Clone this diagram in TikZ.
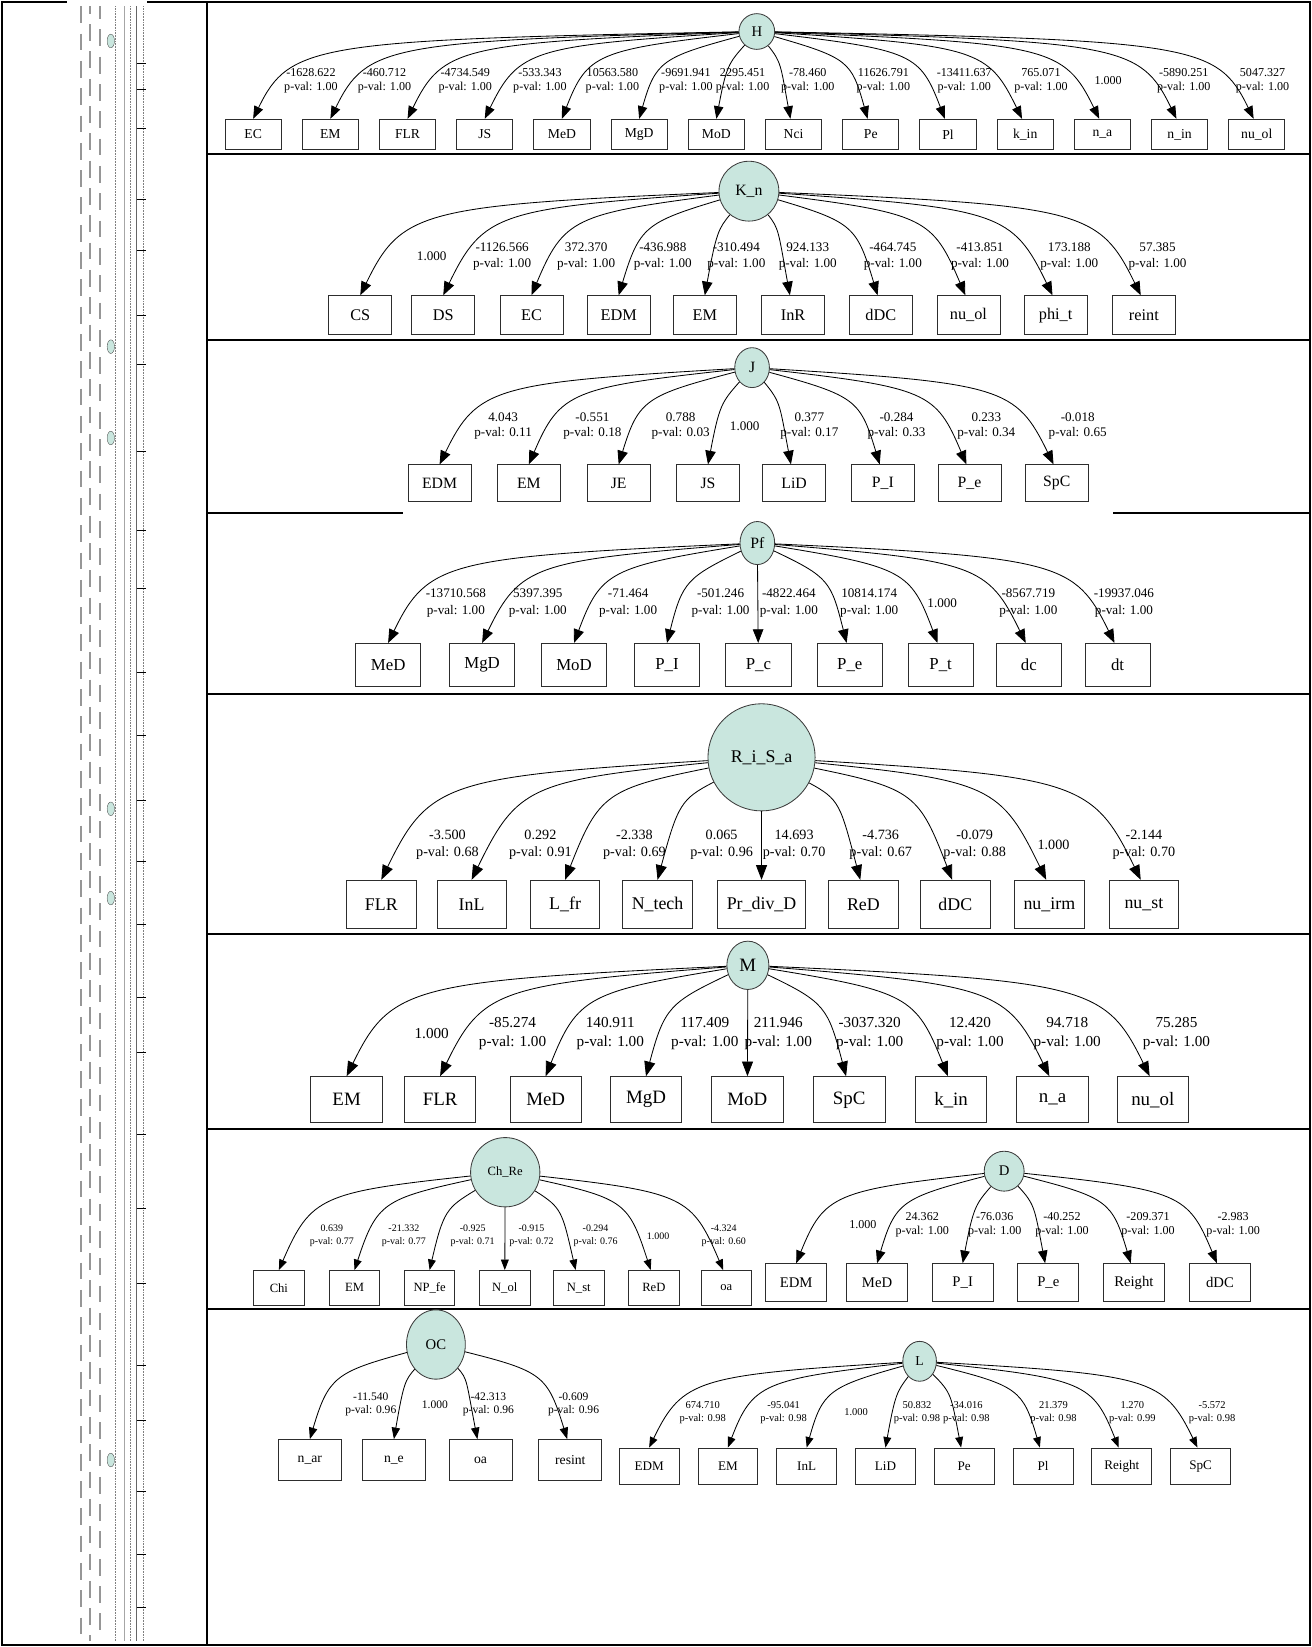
\documentclass[tikz,border=0pt]{standalone}
\usepackage{fontspec}
\setmainfont{Liberation Serif}
\usetikzlibrary{arrows.meta,shapes.geometric}
\definecolor{latfill}{RGB}{201,230,222}
\definecolor{latdraw}{RGB}{60,60,60}
\definecolor{obsdraw}{RGB}{45,45,45}
\definecolor{stripgrey}{RGB}{150,150,150}

% one loading edge: source, target, dx, dy (centre to box top), source radius, tip style
\newcommand{\loadedge}[6]{%
  \pgfmathsetmacro{\ldw}{max(abs(#3)-1.5,0.5)}%
  \pgfmathsetmacro{\ldphi}{atan((#4)/\ldw)}%
  \ifdim\ldphi pt>80pt
    \draw[#6] (#1) -- (#2);%
  \else
    \pgfmathsetmacro{\lddev}{\ldphi*\ldphi/90}%
    \pgfmathsetmacro{\ldww}{\ldw-(#5)*cos(\lddev)}%
    \pgfmathsetmacro{\ldhh}{(#4)-(#5)*sin(\lddev)}%
    \pgfmathsetmacro{\ldpsi}{atan2(\ldhh,\ldww)}%
    \pgfmathsetmacro{\ldal}{max(64+18*(1-min(1,\ldw/250)),min(\ldpsi+6,88))}%
    \pgfmathsetmacro{\lds}{sin(\ldal-\lddev)}%
    \pgfmathsetmacro{\lda}{(\ldww*sin(\ldal)-\ldhh*cos(\ldal))/\lds}%
    \pgfmathsetmacro{\ldb}{(\ldhh*cos(\lddev)-\ldww*sin(\lddev))/\lds}%
    \pgfmathsetmacro{\ldod}{max(0.95*\lda,3)}%
    \pgfmathsetmacro{\ldid}{max(0.95*\ldb,3)}%
    \pgfmathsetmacro{\ldout}{(#3)<0 ? 180+\lddev : -\lddev}%
    \pgfmathsetmacro{\ldin}{(#3)<0 ? \ldal : 180-\ldal}%
    \pgfmathsetmacro{\ldtx}{(#3)<0 ? 0 : -3}%
    \draw[#6] (#1) to[out=\ldout, in=\ldin, out distance=\ldod pt, in distance=\ldid pt] ([xshift=\ldtx pt]#2.north);%
  \fi
}

\begin{document}
\begin{tikzpicture}[x=1pt, y=-1pt,
    latent/.style={circle, draw=latdraw, fill=latfill, line width=0.8pt, inner sep=0pt},
    latentell/.style={ellipse, draw=latdraw, fill=latfill, line width=0.8pt, inner sep=0pt},
    obs/.style={rectangle, draw=obsdraw, line width=0.8pt, inner sep=0pt},
    elab/.style={align=center, inner sep=0pt},
    frameline/.style={line width=2pt, black},
    load/.style n args={2}{-{Triangle[length=#1pt, width=#2pt]}, line width=0.8pt},
  ]
  \useasboundingbox (0,0) rectangle (1249,1568);

  % --- table frame ---
  \draw[frameline] (2,2) -- (64,2);
  \draw[frameline] (140,2) -- (1247,2) -- (1247,1566) -- (2,1566) -- (2,1);
  \draw[frameline] (197,2) -- (197,1566);
  \foreach \ry in {147,324,661,889,1075,1246}
    \draw[frameline] (197,\ry) -- (1247,\ry);
  \draw[frameline] (197,488) -- (384,488);
  \draw[frameline] (1060,488) -- (1247,488);

  % --- squeezed overview strip ---
  \foreach \sx/\ph in {77/0, 86/9, 95/4}
    \draw[stripgrey, line width=1.6pt, dash pattern=on 16pt off 10pt, dash phase=\ph pt] (\sx,6) -- (\sx,1562);
  \foreach \sx in {110,124,136}
    \draw[gray, line width=0.5pt, densely dotted] (\sx,6) -- (\sx,1562);
  \draw[gray!70, line width=0.7pt] (118,6) -- (118,1562);
  \draw[gray!80!black, line width=0.7pt] (130,6) -- (130,1562);
  \foreach \ty in {60,85,122,190,238,300,347,430,505,560,640,700,762,820,880,950,1002,1080,1150,1222,1300,1352,1420,1480,1530}
    \draw[black, line width=0.8pt] (130,\ty) -- (139,\ty);
  \foreach \sy in {39,330,417,770,855,1390}
    \node[latentell, minimum width=7, minimum height=13, line width=0.3pt] (s\sy) at (105.5,\sy) {};

  % --- H ---
  \node[latent, minimum size=34, font=\fontsize{14}{16}\selectfont] (H) at (720.5,30) {H};
  \foreach \bl/\bx/\lx/\lab [count=\i] in {
      EC/241/296/{-1628.622\\p-val: 1.00}, EM/314.5/366/{-460.712\\p-val: 1.00},
      FLR/388/443/{-4734.549\\p-val: 1.00}, JS/461.5/514/{-533.343\\p-val: 1.00},
      MeD/535/583/{10563.580\\p-val: 1.00}, MgD/608.5/653/{-9691.941\\p-val: 1.00},
      MoD/682/707/{2295.451\\p-val: 1.00}, Nci/755.5/769/{-78.460\\p-val: 1.00},
      Pe/829/841/{11626.791\\p-val: 1.00}, Pl/902.5/918/{-13411.637\\p-val: 1.00},
      k\_in/976/991/{765.071\\p-val: 1.00}, n\_a/1049.5/1055/{1.000},
      n\_in/1123/1127/{-5890.251\\p-val: 1.00}, nu\_ol/1196.5/1202/{5047.327\\p-val: 1.00}} {
    \node[obs, minimum width=53.5, minimum height=29, font=\fontsize{13}{15}\selectfont] (h\i) at (\bx,128) {\bl};
    \loadedge{H}{h\i}{\bx-720.5}{83.5}{17}{load={12}{9}}
    \node[elab, font=\fontsize{11.5}{14}\selectfont] (hl\i) at (\lx,77) {\lab};
  }

  % --- K_n ---
  \node[latent, minimum size=57, font=\fontsize{15}{17}\selectfont] (Kn) at (713,182) {K\_n};
  \foreach \bl/\bx/\lx/\lab [count=\i] in {
      CS/343/411/{1.000}, DS/422/478/{-1126.566\\p-val: 1.00},
      EC/506/558/{372.370\\p-val: 1.00}, EDM/589/631/{-436.988\\p-val: 1.00},
      EM/671/701/{-310.494\\p-val: 1.00}, InR/755/769/{924.133\\p-val: 1.00},
      dDC/838.5/850/{-464.745\\p-val: 1.00}, nu\_ol/922/933/{-413.851\\p-val: 1.00},
      phi\_t/1005/1018/{173.188\\p-val: 1.00}, reint/1089/1102/{57.385\\p-val: 1.00}} {
    \node[obs, minimum width=60, minimum height=37, font=\fontsize{15.5}{18}\selectfont] (k\i) at (\bx,300) {\bl};
    \loadedge{Kn}{k\i}{\bx-713}{99.5}{28.5}{load={13}{10}}
    \node[elab, font=\fontsize{12.5}{15}\selectfont] (kl\i) at (\lx,244) {\lab};
  }

  % --- J ---
  \node[latentell, minimum width=33, minimum height=38, font=\fontsize{15}{17}\selectfont] (J) at (716,350) {J};
  \foreach \bl/\bx/\lx/\lab [count=\i] in {
      EDM/418.5/479/{4.043\\p-val: 0.11}, EM/503.5/564/{-0.551\\p-val: 0.18},
      JE/589/648/{0.788\\p-val: 0.03}, JS/674/709/{1.000},
      LiD/756/770.5/{0.377\\p-val: 0.17}, P\_I/840.5/853.5/{-0.284\\p-val: 0.33},
      P\_e/923/939/{0.233\\p-val: 0.34}, SpC/1006/1026/{-0.018\\p-val: 0.65}} {
    \node[obs, minimum width=60, minimum height=35, font=\fontsize{15}{18}\selectfont] (j\i) at (\bx,460) {\bl};
    \loadedge{J}{j\i}{\bx-716}{92.5}{17}{load={13}{10}}
    \node[elab, font=\fontsize{12.5}{15}\selectfont] (jl\i) at (\lx,405.5) {\lab};
  }

  % --- Pf ---
  \node[latentell, minimum width=33, minimum height=41, font=\fontsize{15}{17}\selectfont] (Pf) at (721,517) {Pf};
  \foreach \bl/\bx/\lx/\lab [count=\i] in {
      MeD/369.5/434/{-13710.568\\p-val: 1.00}, MgD/459/512/{5397.395\\p-val: 1.00},
      MoD/546.5/598/{-71.464\\p-val: 1.00}, P\_I/635/686/{-501.246\\p-val: 1.00},
      P\_c/722/751/{-4822.464\\p-val: 1.00}, P\_e/809/827.5/{10814.174\\p-val: 1.00},
      P\_t/895.5/897/{1.000}, dc/979.5/979/{-8567.719\\p-val: 1.00},
      dt/1064/1070/{-19937.046\\p-val: 1.00}} {
    \node[obs, minimum width=62, minimum height=41, font=\fontsize{16}{19}\selectfont] (p\i) at (\bx,633) {\bl};
    \loadedge{Pf}{p\i}{\bx-721}{95.5}{17}{load={13}{10}}
    \node[elab, font=\fontsize{12.5}{15.5}\selectfont] (pl\i) at (\lx,574) {\lab};
  }

  % --- R_i_S_a ---
  \node[latent, minimum size=102, font=\fontsize{17}{19}\selectfont] (RiSa) at (725,721) {R\_i\_S\_a};
  \foreach \bl/\bx/\lx/\lab [count=\i] in {
      FLR/363/426/{-3.500\\p-val: 0.68}, InL/449/514.5/{0.292\\p-val: 0.91},
      L\_fr/538/604/{-2.338\\p-val: 0.69}, N\_tech/626/687/{0.065\\p-val: 0.96},
      Pr\_div\_D/725/756/{14.693\\p-val: 0.70}, ReD/822/838.5/{-4.736\\p-val: 0.67},
      dDC/909.5/928/{-0.079\\p-val: 0.88}, nu\_irm/999/1003/{1.000},
      nu\_st/1089/1089/{-2.144\\p-val: 0.70}} {
    \node[obs, minimum width=66, minimum height=46, inner xsep=9, font=\fontsize{17}{20}\selectfont] (r\i) at (\bx,861) {\bl};
    \loadedge{RiSa}{r\i}{\bx-725}{117}{51}{load={14}{10.5}}
    \node[elab, font=\fontsize{13.5}{16}\selectfont] (rl\i) at (\lx,804) {\lab};
  }

  % --- M ---
  \node[latentell, minimum width=40, minimum height=46, font=\fontsize{18}{20}\selectfont] (M) at (712,919) {M};
  \foreach \bl/\bx/\lx/\lab [count=\i] in {
      EM/330/411/{1.000}, FLR/419/488/{-85.274\\p-val: 1.00},
      MeD/519.5/581/{140.911\\p-val: 1.00}, MgD/615/671/{117.409\\p-val: 1.00},
      MoD/711.5/741/{211.946\\p-val: 1.00}, SpC/808.5/828/{-3037.320\\p-val: 1.00},
      k\_in/905.5/923.5/{12.420\\p-val: 1.00}, n\_a/1002/1016/{94.718\\p-val: 1.00},
      nu\_ol/1097.5/1120/{75.285\\p-val: 1.00}} {
    \node[obs, minimum width=68, minimum height=44, font=\fontsize{18}{21}\selectfont] (m\i) at (\bx,1047) {\bl};
    \loadedge{M}{m\i}{\bx-712}{106}{21}{load={14}{10.5}}
    \node[elab, font=\fontsize{14.5}{17.5}\selectfont] (ml\i) at (\lx,984) {\lab};
  }

  % --- Ch_Re ---
  \node[latent, minimum size=66, font=\fontsize{12}{14}\selectfont] (ChRe) at (481,1116) {Ch\_Re};
  \foreach \bl/\bx/\lx/\lab [count=\i] in {
      Chi/265.5/316/{0.639\\p-val: 0.77}, EM/337.5/384.5/{-21.332\\p-val: 0.77},
      NP\_fe/409/450/{-0.925\\p-val: 0.71}, N\_ol/480.5/506/{-0.915\\p-val: 0.72},
      N\_st/551/567/{-0.294\\p-val: 0.76}, ReD/622.5/626.5/{1.000},
      oa/691.5/689/{-4.324\\p-val: 0.60}} {
    \node[obs, minimum width=48, minimum height=33, font=\fontsize{12}{14}\selectfont] (c\i) at (\bx,1226) {\bl};
    \loadedge{ChRe}{c\i}{\bx-481}{93.5}{33}{load={10}{7.5}}
    \node[elab, font=\fontsize{9.5}{12}\selectfont] (cl\i) at (\lx,1176.5) {\lab};
  }

  % --- D ---
  \node[latent, minimum size=38, font=\fontsize{14}{16}\selectfont] (D) at (956,1115) {D};
  \foreach \bl/\bx/\lx/\lab [count=\i] in {
      EDM/758/821.5/{1.000}, MeD/835/878/{24.362\\p-val: 1.00},
      P\_I/916.5/947/{-76.036\\p-val: 1.00}, P\_e/998/1011/{-40.252\\p-val: 1.00},
      Reight/1079.5/1093/{-209.371\\p-val: 1.00}, dDC/1161.5/1174/{-2.983\\p-val: 1.00}} {
    \node[obs, minimum width=58, minimum height=36, font=\fontsize{14}{16}\selectfont] (d\i) at (\bx,1221) {\bl};
    \loadedge{D}{d\i}{\bx-956}{88}{19}{load={12}{9}}
    \node[elab, font=\fontsize{11.5}{14}\selectfont] (dl\i) at (\lx,1166) {\lab};
  }

  % --- OC ---
  \node[latentell, minimum width=56, minimum height=66, font=\fontsize{14}{16}\selectfont] (OC) at (415,1280) {OC};
  \foreach \bl/\bx/\lx/\lab [count=\i] in {
      n\_ar/295/353/{-11.540\\p-val: 0.96}, n\_e/375/414/{1.000},
      oa/457.5/465/{-42.313\\p-val: 0.96}, resint/543/546/{-0.609\\p-val: 0.96}} {
    \node[obs, minimum width=60, minimum height=39, font=\fontsize{13}{15}\selectfont] (o\i) at (\bx,1390) {\bl};
    \loadedge{OC}{o\i}{\bx-415}{90.5}{30}{load={11}{8}}
    \node[elab, font=\fontsize{11}{13}\selectfont] (ol\i) at (\lx,1337) {\lab};
  }

  % --- L ---
  \node[latentell, minimum width=32, minimum height=38, font=\fontsize{13}{15}\selectfont] (L) at (875.5,1296) {L};
  \foreach \bl/\bx/\lx/\lab [count=\i] in {
      EDM/618/669/{674.710\\p-val: 0.98}, EM/693/746/{-95.041\\p-val: 0.98},
      InL/768/815/{1.000}, LiD/843/873/{50.832\\p-val: 0.98},
      Pe/918/920/{-34.016\\p-val: 0.98}, Pl/993/1003/{21.379\\p-val: 0.98},
      Reight/1068/1078/{1.270\\p-val: 0.99}, SpC/1143/1154/{-5.572\\p-val: 0.98}} {
    \node[obs, minimum width=57, minimum height=35, font=\fontsize{12.5}{15}\selectfont] (l\i) at (\bx,1396) {\bl};
    \loadedge{L}{l\i}{\bx-875.5}{82.5}{17}{load={10}{7.5}}
    \node[elab, font=\fontsize{10}{12.5}\selectfont] (ll\i) at (\lx,1344.5) {\lab};
  }
\end{tikzpicture}
\end{document}
